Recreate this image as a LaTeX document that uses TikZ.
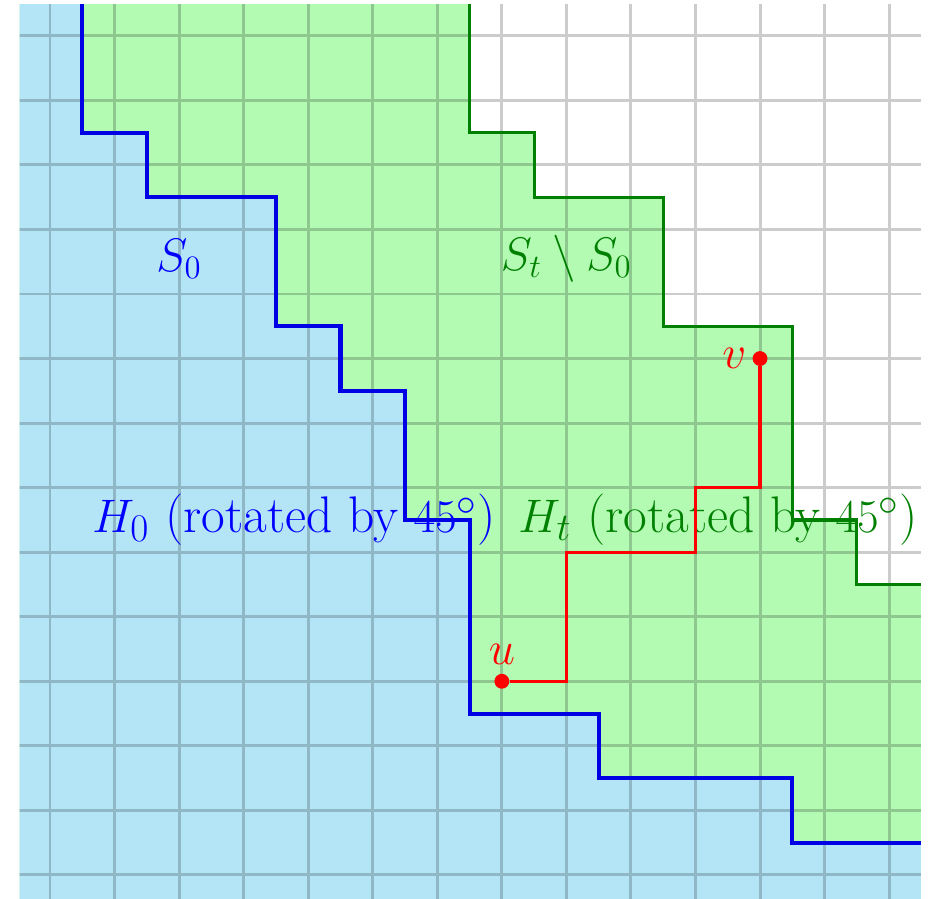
\documentclass[tikz,border=0pt]{standalone}
\usetikzlibrary{positioning}
\definecolor{fillzero}{RGB}{179,229,247}
\definecolor{fillt}{RGB}{179,251,179}

\begin{document}
\begin{tikzpicture}[font=\huge,
  gridln/.style={black,opacity=0.2,line width=1.3pt},
  bndzero/.style={blue!90!black,line width=1.8pt},
  bndt/.style={green!50!black,line width=1.4pt},
  walk/.style={red,line width=1.4pt},
  dot/.style={circle,fill=red,inner sep=0pt,minimum size=2.3mm},
  lbl/.style={inner sep=1pt},
  hlbl/.style={font=\fontsize{22.7}{27}\selectfont}]
  \useasboundingbox (-0.775,-0.372) rectangle (13.726,13.555);
  \begin{scope}
    \clip (-0.47,-0.5) rectangle (13.49,13.48);
    % S_t and S_0
    \fill[fillt] (-1,14) -- (6.5,14) -- (6.5,11.5) -- (7.5,11.5) -- (7.5,10.5) -- (9.5,10.5) -- (9.5,8.5)
      -- (11.5,8.5) -- (11.5,5.5) -- (12.5,5.5) -- (12.5,4.5) -- (14,4.5) -- (14,-1) -- (-1,-1) -- cycle;
    \fill[fillzero] (-1,14) -- (0.5,14) -- (0.5,11.5) -- (1.5,11.5) -- (1.5,10.5) -- (3.5,10.5) -- (3.5,8.5)
      -- (4.5,8.5) -- (4.5,7.5) -- (5.5,7.5) -- (5.5,5.5) -- (6.5,5.5) -- (6.5,2.5) -- (8.5,2.5) -- (8.5,1.5)
      -- (11.5,1.5) -- (11.5,0.5) -- (14,0.5) -- (14,-1) -- (-1,-1) -- cycle;
    \draw[gridln] (-1,-1) grid (14,14);
    \draw[bndt] (6.5,14) -- (6.5,11.5) -- (7.5,11.5) -- (7.5,10.5) -- (9.5,10.5) -- (9.5,8.5)
      -- (11.5,8.5) -- (11.5,5.5) -- (12.5,5.5) -- (12.5,4.5) -- (14,4.5);
    \draw[bndzero] (0.5,14) -- (0.5,11.5) -- (1.5,11.5) -- (1.5,10.5) -- (3.5,10.5) -- (3.5,8.5)
      -- (4.5,8.5) -- (4.5,7.5) -- (5.5,7.5) -- (5.5,5.5) -- (6.5,5.5) -- (6.5,2.5) -- (8.5,2.5) -- (8.5,1.5)
      -- (11.5,1.5) -- (11.5,0.5) -- (14,0.5);
  \end{scope}
  \node[blue] (s0) at (2,9.55) {$S_0$};
  \node[green!50!black] (st) at (8,9.55) {$S_t\setminus S_0$};
  \node[hlbl,blue] (h0) at (3.78,5.5) {$H_0$ (rotated by $45^\circ$)};
  \node[hlbl,green!50!black] (ht) at (10.35,5.5) {$H_t$ (rotated by $45^\circ$)};
  % path from u to v
  \node[dot] (u) at (7,3) {};
  \node[dot] (v) at (11,8) {};
  \draw[walk] (u) -| (8,5) -| (10,6) -| (v);
  \node[lbl,red,above=0.1 of u] (ul) {$u$};
  \node[lbl,red,left=0.05 of v] (vl) {$v$};
\end{tikzpicture}
\end{document}
